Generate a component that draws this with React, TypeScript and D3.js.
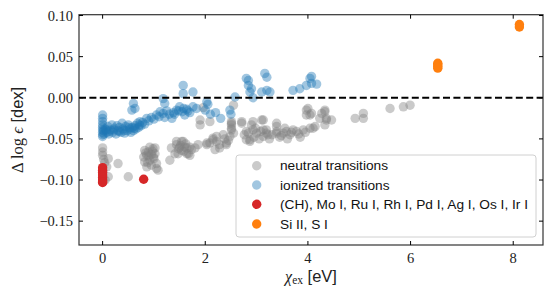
import React from 'react';
import * as d3 from 'd3';

// chart values
const neutral: [number, number][] = [
  [0, -0.061], [0, -0.066], [0, -0.070], [0.02, -0.075], [0.08, -0.084], [0.11, -0.074], [0.05, -0.1],
  [0.11, -0.096], [0.3, -0.08], [0.5, -0.096], [0.04, -0.079], [0.0, -0.09],
  [0.82, -0.064], [0.89, -0.066], [0.92, -0.06], [1.02, -0.061], [1.02, -0.068], [0.86, -0.07],
  [0.99, -0.072], [0.92, -0.076], [0.82, -0.078], [0.95, -0.082], [0.86, -0.084], [1.05, -0.08],
  [1.05, -0.086], [1.08, -0.088], [0.8, -0.072], [0.97, -0.065], [0.9, -0.071], [0.95, -0.069],
  [1.0, -0.074], [0.88, -0.079], [0.84, -0.067], [0.98, -0.062],
  [1.31, -0.076], [1.34, -0.061], [1.41, -0.068], [1.44, -0.053], [1.44, -0.057], [1.47, -0.068],
  [1.5, -0.06], [1.54, -0.053], [1.54, -0.064], [1.57, -0.053], [1.6, -0.06], [1.64, -0.061],
  [1.64, -0.068], [1.67, -0.068], [1.7, -0.06], [1.7, -0.07], [1.73, -0.063], [1.8, -0.061],
  [1.86, -0.057], [1.9, -0.027], [1.9, -0.033], [1.96, -0.012], [1.52, -0.058], [1.58, -0.065],
  [1.48, -0.062], [1.62, -0.056],
  [2.03, -0.055], [2.03, -0.057], [2.09, -0.029], [2.09, -0.055], [2.15, -0.049], [2.15, -0.051],
  [2.19, -0.063], [2.22, -0.047], [2.22, -0.053], [2.28, -0.057], [2.28, -0.061], [2.35, -0.045],
  [2.41, -0.055], [2.41, -0.057], [2.48, -0.047], [2.51, -0.029], [2.51, -0.031], [2.51, -0.033],
  [2.51, -0.037], [2.51, -0.039], [2.55, -0.043], [2.55, -0.009], [2.45, -0.052], [2.38, -0.05],
  [2.71, -0.029], [2.71, -0.031], [2.8, -0.041], [2.8, -0.051], [2.84, -0.043], [2.87, -0.051],
  [2.87, -0.053], [2.9, -0.033], [2.93, -0.029], [2.93, -0.039], [3.0, -0.043], [3.1, -0.027],
  [3.13, -0.027], [3.13, -0.039], [3.13, -0.047], [3.19, -0.039], [3.19, -0.043], [2.76, -0.045],
  [2.95, -0.048], [3.05, -0.05], [3.25, -0.05], [3.45, -0.048], [3.6, -0.05], [2.98, -0.037],
  [3.08, -0.041], [3.22, -0.045], [3.52, -0.043],
  [3.3, -0.045], [3.39, -0.031], [3.39, -0.035], [3.39, -0.041], [3.39, -0.043], [3.48, -0.046],
  [3.55, -0.037], [3.58, -0.041], [3.65, -0.045], [3.71, -0.039], [3.78, -0.041], [3.85, -0.048],
  [3.91, -0.039], [3.97, -0.015], [3.97, -0.021], [4.0, -0.013], [4.04, -0.021], [4.04, -0.037],
  [4.07, -0.019], [4.1, -0.037], [4.14, -0.035], [4.23, -0.025], [4.27, -0.019], [3.68, -0.042],
  [3.82, -0.044], [3.95, -0.042],
  [4.33, -0.015], [4.33, -0.017], [4.33, -0.033], [4.36, -0.025], [4.36, -0.027], [4.46, -0.027],
  [4.92, -0.025], [5.08, -0.019], [5.08, -0.025], [5.6, -0.013], [5.86, -0.011], [5.99, -0.009],
];

const ionized: [number, number][] = [
  [0, -0.021], [0, -0.025], [0, -0.029], [0, -0.033], [0, -0.036], [0, -0.039], [0, -0.042],
  [0, -0.045], [0, -0.047], [0.02, -0.04], [0.03, -0.044],
  [0.05, -0.038], [0.08, -0.042], [0.1, -0.035], [0.12, -0.044], [0.15, -0.039], [0.18, -0.033],
  [0.2, -0.042], [0.23, -0.037], [0.26, -0.044], [0.28, -0.034], [0.3, -0.04], [0.33, -0.036],
  [0.36, -0.042], [0.38, -0.031], [0.4, -0.038], [0.43, -0.043], [0.45, -0.035], [0.48, -0.04],
  [0.5, -0.033], [0.53, -0.038], [0.55, -0.042], [0.58, -0.036], [0.6, -0.04], [0.63, -0.034],
  [0.65, -0.038], [0.68, -0.031], [0.7, -0.036], [0.73, -0.029], [0.75, -0.034], [0.78, -0.03],
  [0.07, -0.039], [0.13, -0.041], [0.22, -0.039], [0.32, -0.041], [0.42, -0.04], [0.52, -0.036],
  [0.62, -0.037], [0.72, -0.033],
  [0.82, -0.032], [0.86, -0.025], [0.9, -0.028], [0.95, -0.024], [1.0, -0.026], [1.05, -0.021],
  [1.1, -0.023], [1.12, -0.017], [1.18, -0.019], [1.21, -0.024], [1.25, -0.016], [1.3, -0.02],
  [1.35, -0.025], [1.38, -0.018], [1.44, -0.015], [1.5, -0.011], [1.55, -0.017], [1.6, -0.021],
  [1.64, -0.014], [1.7, -0.018], [1.76, -0.011], [1.83, -0.013], [1.4, -0.02], [1.48, -0.016],
  [1.58, -0.013], [1.66, -0.016],
  [0.6, -0.007], [0.57, -0.015], [0.63, -0.013], [1.18, -0.001], [1.21, -0.007], [1.57, 0.015],
  [1.57, 0.005], [1.76, 0.007], [2.03, -0.005], [2.05, -0.008], [2.0, -0.015], [2.1, -0.02],
  [2.2, -0.018], [2.3, -0.025], [2.48, -0.015], [2.58, 0.001], [2.5, -0.02],
  [2.8, 0.0235], [2.84, 0.015], [2.87, 0.007], [2.93, 0.0], [2.84, 0.021], [2.9, 0.011],
  [3.16, 0.0296], [3.2, 0.025], [3.1, 0.007], [3.26, 0.007], [3.2, 0.009], [3.71, 0.009],
  [3.84, 0.011], [3.97, 0.015], [4.04, 0.0235], [4.07, 0.0175], [4.17, 0.0166], [4.07, 0.026],
];

const special: [number, number][] = [
  [0, -0.085], [0, -0.088], [0, -0.091], [0, -0.094], [0, -0.097], [0, -0.1], [0, -0.102],
  [0, -0.103], [0.8, -0.099],
];

const siS: [number, number][] = [
  [6.53, 0.042], [6.53, 0.04], [6.53, 0.038], [6.53, 0.036], [8.12, 0.089], [8.12, 0.086],
];

const xTicks = [0, 2, 4, 6, 8];
const yTicks = [0.1, 0.05, 0, -0.05, -0.1, -0.15];

const legendLabels = [
  'neutral transitions',
  'ionized transitions',
  '(CH), Mo I, Ru I, Rh I, Pd I, Ag I, Os I, Ir I',
  'Si II, S I',
];

const W = 554;
const H = 298;
const left = 79, right = 543, top = 14.7, bottom = 245;
const R = 4.7;
const serif = '"Liberation Serif", "DejaVu Serif", serif';
const sans = '"Liberation Sans", Arial, sans-serif';

const App: React.FC = () => {
  const x = d3.scaleLinear().domain([-0.46, 8.58]).range([left, right]);
  const y = d3.scaleLinear().domain([-0.179, 0.101]).range([bottom, top]);

  const fmt = (v: number) => {
    const s = d3.format('.2f')(Math.abs(v));
    return v < 0 ? '\u2212' + s : s;
  };

  const groups = [
    { data: neutral, fill: '#808080', op: 0.42 },
    { data: ionized, fill: '#1f77b4', op: 0.42 },
    { data: special, fill: '#d62728', op: 1 },
    { data: siS, fill: '#ff7f0e', op: 1 },
  ];

  const legendRows = [165.7, 185, 204.3, 224];

  return (
    <div style={{ position: 'absolute', left: 0, top: 0 }}>
      <svg width={W} height={H} style={{ display: 'block', background: '#fff' }}>
        {groups.map((g, gi) => (
          <g key={gi}>
            {g.data.map((d, i) => (
              <circle key={i} cx={x(d[0])} cy={y(d[1])} r={R} fill={g.fill} fillOpacity={g.op} />
            ))}
          </g>
        ))}

        {/* zero line */}
        <line x1={left} x2={right} y1={y(0)} y2={y(0)} stroke="#000" strokeWidth={2} strokeDasharray="7,3.4" />

        {/* frame */}
        <rect x={left} y={top} width={right - left} height={bottom - top} fill="none" stroke="#333" strokeWidth={1.2} />

        {/* ticks, pointing inwards on all sides */}
        {xTicks.map(t => (
          <g key={'x' + t}>
            <line x1={x(t)} x2={x(t)} y1={bottom} y2={bottom - 4} stroke="#000" strokeWidth={1} />
            <line x1={x(t)} x2={x(t)} y1={top} y2={top + 4} stroke="#000" strokeWidth={1} />
            <text x={x(t)} y={263} textAnchor="middle" fontFamily={serif} fontSize={14.5} fill="#222">{t}</text>
          </g>
        ))}
        {yTicks.map(t => (
          <g key={'y' + t}>
            <line x1={left} x2={left + 4} y1={y(t)} y2={y(t)} stroke="#000" strokeWidth={1} />
            <line x1={right} x2={right - 4} y1={y(t)} y2={y(t)} stroke="#000" strokeWidth={1} />
            <text x={73} y={y(t)} dy="0.35em" textAnchor="end" fontFamily={serif} fontSize={14.5} fill="#222">{fmt(t)}</text>
          </g>
        ))}

        {/* axis labels */}
        <text x={(left + right) / 2} y={282} textAnchor="middle" fill="#222">
          <tspan fontFamily={serif} fontStyle="italic" fontSize={16}>χ</tspan>
          <tspan fontFamily={serif} fontSize={11.5} dy={2}>ex</tspan>
          <tspan fontFamily={sans} fontSize={16.5} dy={-2}> [eV]</tspan>
        </text>
        <text transform={`translate(23, ${(top + bottom) / 2}) rotate(-90)`} textAnchor="middle" fill="#222">
          <tspan fontFamily={serif} fontSize={16.5}>Δ log </tspan>
          <tspan fontFamily={serif} fontStyle="italic" fontSize={16.5}>ϵ</tspan>
          <tspan fontFamily={sans} fontSize={16.5}> [dex]</tspan>
        </text>

        {/* legend */}
        <rect x={236} y={155} width={300} height={82} rx={3} fill="#fff" fillOpacity={0.8} stroke="#d0d0d0" strokeWidth={1} />
        {legendLabels.map((lab, i) => (
          <g key={lab}>
            <circle cx={256.7} cy={legendRows[i]} r={R} fill={groups[i].fill} fillOpacity={groups[i].op} />
            <text x={280} y={legendRows[i]} dy="0.35em" fontFamily={sans} fontSize={13.7} fill="#111">{lab}</text>
          </g>
        ))}
      </svg>
    </div>
  );
};

export default App;
